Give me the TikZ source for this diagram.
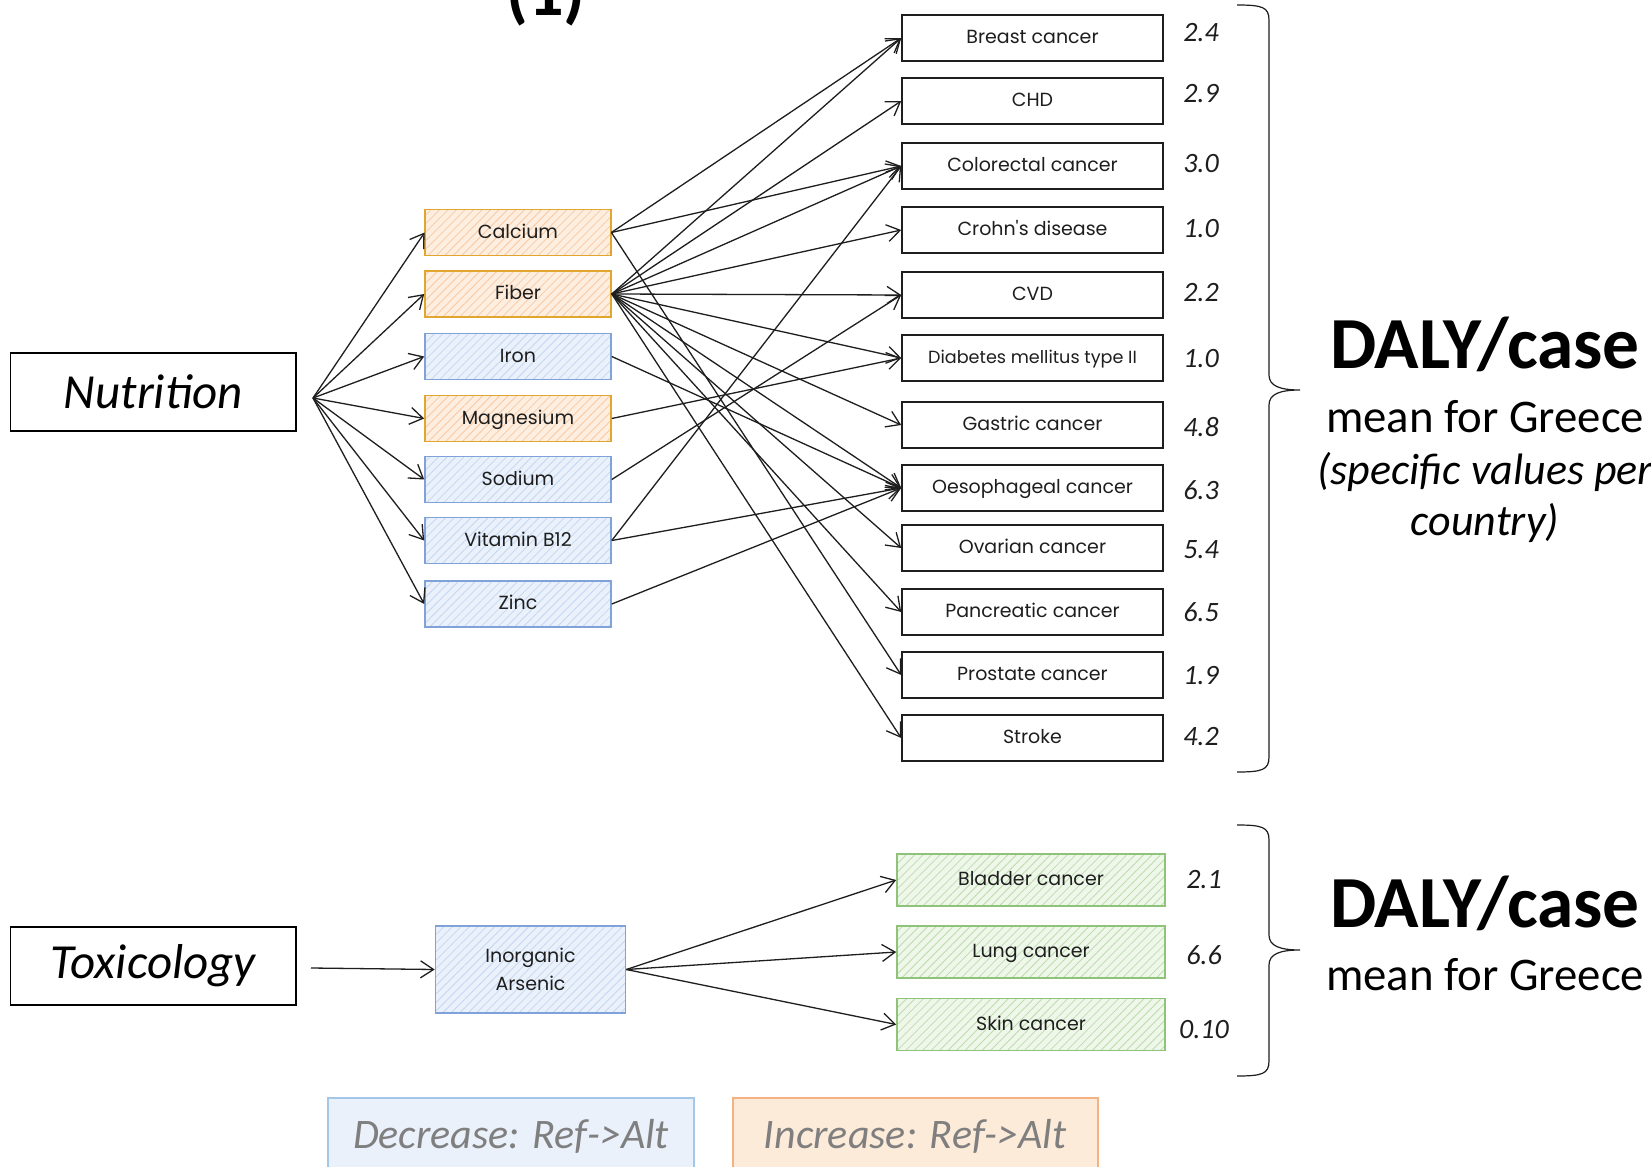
\documentclass[tikz,border=0pt]{standalone}
\usepackage{fontspec}
\setmainfont{Carlito}
\newfontfamily\hand{Poppins}
\usetikzlibrary{arrows.meta,patterns.meta}
\definecolor{ink}{HTML}{1E1E1E}
\definecolor{orbd}{HTML}{E2A52E}
\definecolor{orfill}{HTML}{FDEEE0}
\definecolor{orhatch}{HTML}{F7C9A2}
\definecolor{blbd}{HTML}{7FA3D8}
\definecolor{blfill}{HTML}{EAF1FB}
\definecolor{blhatch}{HTML}{C3D7F2}
\definecolor{grbd}{HTML}{8EC378}
\definecolor{grfill}{HTML}{EFF7EA}
\definecolor{grhatch}{HTML}{BCDDAC}
\definecolor{lgbluefill}{HTML}{EAF1FB}
\definecolor{lgbluebd}{HTML}{A4C7E9}
\definecolor{lgorfill}{HTML}{FDEBD9}
\definecolor{lgorbd}{HTML}{F4B183}
\definecolor{lgtext}{HTML}{7F7F7F}
\tikzset{
  handtext/.style={font=\hand\fontsize{9.5}{11}\selectfont, text=ink, align=center},
  nbox/.style={handtext, draw, line width=0.8pt, minimum width=93pt, minimum height=23pt, inner sep=0pt, text height=0.75em, text depth=0.2em},
  orbox/.style={nbox, draw=orbd, preaction={fill=orfill}, pattern={Lines[angle=45,distance=3pt,line width=0.4pt]}, pattern color=orhatch},
  blbox/.style={nbox, draw=blbd, preaction={fill=blfill}, pattern={Lines[angle=45,distance=3pt,line width=0.4pt]}, pattern color=blhatch},
  grbox/.style={nbox, draw=grbd, preaction={fill=grfill}, pattern={Lines[angle=45,distance=3pt,line width=0.4pt]}, pattern color=grhatch, minimum width=134pt, minimum height=26pt},
  dbox/.style={handtext, draw=ink, line width=0.8pt, fill=white, minimum width=130.5pt, minimum height=23pt, inner sep=0pt, text height=0.75em, text depth=0.2em},
  bigbox/.style={draw=black, line width=0.9pt, minimum width=142.75pt, minimum height=39pt, inner sep=0pt, font=\itshape\fontsize{24.5}{28}\selectfont},
  val/.style={font=\itshape\fontsize{14}{16}\selectfont, text=ink, inner sep=0pt},
  arr/.style={draw=ink, line width=0.65pt, -{Straight Barb[length=6.5pt,width=8.5pt,line width=0.65pt]}},
  brace/.style={draw=ink, line width=0.6pt},
  daly/.style={font=\bfseries\fontsize{36.7}{40}\selectfont, anchor=base, inner sep=0pt},
  sub/.style={font=\fontsize{23.4}{26}\selectfont, anchor=base, inner sep=0pt},
  subit/.style={font=\itshape\fontsize{22}{26}\selectfont, anchor=base, inner sep=0pt},
  legbox/.style={line width=0.8pt},
  legtext/.style={font=\itshape\fontsize{21}{24}\selectfont, text=lgtext, anchor=base, inner sep=0pt},
}
\begin{document}
\begin{tikzpicture}[x=0.5pt,y=-0.5pt]
\useasboundingbox (0,0) rectangle (1651,1167);
\fill[white] (0,0) rectangle (1651,1167);

% title fragment
\node[font=\bfseries\fontsize{35}{40}\selectfont, anchor=base, inner sep=0pt] (title) at (546,16) {(1)};

% category boxes
\node[bigbox] (nutrition) at (153.25,392) {Nutrition};
\node[bigbox] (toxicology) at (153.25,966) {Toxicology};

% nutrients
\node[orbox] (calcium) at (518,232.5) {Calcium};
\node[orbox] (fiber) at (518,294) {Fiber};
\node[blbox] (iron) at (518,356.5) {Iron};
\node[orbox] (magnesium) at (518,418.5) {Magnesium};
\node[blbox] (sodium) at (518,479.5) {Sodium};
\node[blbox] (vitb) at (518,540.5) {Vitamin B12};
\node[blbox] (zinc) at (518,604) {Zinc};

% diseases
\node[dbox] (breast) at (1032.5,38) {Breast cancer};
\node[dbox] (chd) at (1032.5,101) {CHD};
\node[dbox] (colorectal) at (1032.5,166) {Colorectal cancer};
\node[dbox] (crohn) at (1032.5,230) {Crohn's disease};
\node[dbox] (cvd) at (1032.5,295) {CVD};
\node[dbox, font=\hand\fontsize{8.8}{10}\selectfont] (diabetes) at (1032.5,358) {Diabetes mellitus type II};
\node[dbox] (gastric) at (1032.5,425) {Gastric cancer};
\node[dbox] (oeso) at (1032.5,488) {Oesophageal cancer};
\node[dbox] (ovarian) at (1032.5,548) {Ovarian cancer};
\node[dbox] (pancreatic) at (1032.5,612) {Pancreatic cancer};
\node[dbox] (prostate) at (1032.5,675) {Prostate cancer};
\node[dbox] (stroke) at (1032.5,738) {Stroke};

% values
\node[val] (v1) at (1201,33) {2.4};
\node[val] (v2) at (1201,94) {2.9};
\node[val] (v3) at (1201,164) {3.0};
\node[val] (v4) at (1201,229) {1.0};
\node[val] (v5) at (1201,293) {2.2};
\node[val] (v6) at (1201,359) {1.0};
\node[val] (v7) at (1201,427) {4.8};
\node[val] (v8) at (1201,490) {6.3};
\node[val] (v9) at (1201,550) {5.4};
\node[val] (v10) at (1201,612) {6.5};
\node[val] (v11) at (1201,676) {1.9};
\node[val] (v12) at (1201,737) {4.2};

% toxicology part
\node[blbox, minimum width=95pt, minimum height=43.5pt, text height=, text depth=, font=\hand\fontsize{9.5}{14}\selectfont] (arsenic) at (530.5,969.5) {Inorganic\\Arsenic};
\node[grbox] (bladder) at (1031,880) {Bladder cancer};
\node[grbox] (lung) at (1031,952) {Lung cancer};
\node[grbox] (skin) at (1031,1024.5) {Skin cancer};
\node[val] (w1) at (1204,880) {2.1};
\node[val] (w2) at (1204,955) {6.6};
\node[val] (w3) at (1204,1030) {0.10};

% fan points
\coordinate (nfan) at (313,398);
\coordinate (tfan) at (311,968);

% nutrition fan
\foreach \n in {calcium,fiber,iron,magnesium,sodium,vitb,zinc}
  \draw[arr] (nfan) -- (\n.west);

% nutrient -> disease
\draw[arr] (calcium.east) -- (breast.west);
\draw[arr] (calcium.east) -- (colorectal.west);
\draw[arr] (calcium.east) -- (prostate.west);
\foreach \d in {breast,chd,colorectal,crohn,cvd,diabetes,gastric,oeso,ovarian,pancreatic,stroke}
  \draw[arr] (fiber.east) -- (\d.west);
\draw[arr] (iron.east) -- (oeso.west);
\draw[arr] (magnesium.east) -- (diabetes.west);
\draw[arr] (sodium.east) -- (cvd.west);
\draw[arr] (vitb.east) -- (colorectal.west);
\draw[arr] (vitb.east) -- (oeso.west);
\draw[arr] (zinc.east) -- (oeso.west);

% toxicology arrows
\draw[arr] (tfan) -- (arsenic.west);
\draw[arr] (arsenic.east) -- (bladder.west);
\draw[arr] (arsenic.east) -- (lung.west);
\draw[arr] (arsenic.east) -- (skin.west);

% braces
\draw[brace] (1237,5) .. controls (1262,5) and (1269,7) .. (1269,20) -- (1269,375)
  .. controls (1269,386) and (1280,390) .. (1300,390)
  .. controls (1280,390) and (1269,394) .. (1269,405) -- (1269,757)
  .. controls (1269,770) and (1262,772) .. (1237,772);
\draw[brace] (1237,825) .. controls (1262,825) and (1269,827) .. (1269,840) -- (1269,935)
  .. controls (1269,946) and (1280,950) .. (1300,950)
  .. controls (1280,950) and (1269,954) .. (1269,965) -- (1269,1061)
  .. controls (1269,1074) and (1262,1076) .. (1237,1076);

% DALY labels
\node[daly] (daly1) at (1485,368) {DALY/case};
\node[sub] (mean1) at (1485,432) {mean for Greece};
\node[subit] (spec1) at (1485,484) {(specific values per};
\node[subit] (spec2) at (1485,535) {country)};
\node[daly] (daly2) at (1485,927) {DALY/case};
\node[sub] (mean2) at (1485,990) {mean for Greece};

% legend
\draw[legbox, draw=lgbluebd, fill=lgbluefill] (328,1098) rectangle (694,1200);
\draw[legbox, draw=lgorbd, fill=lgorfill] (733,1098) rectangle (1098,1200);
\node[legtext] (ldec) at (511,1148) {Decrease: Ref->Alt};
\node[legtext] (linc) at (915,1148) {Increase: Ref->Alt};
\end{tikzpicture}
\end{document}
